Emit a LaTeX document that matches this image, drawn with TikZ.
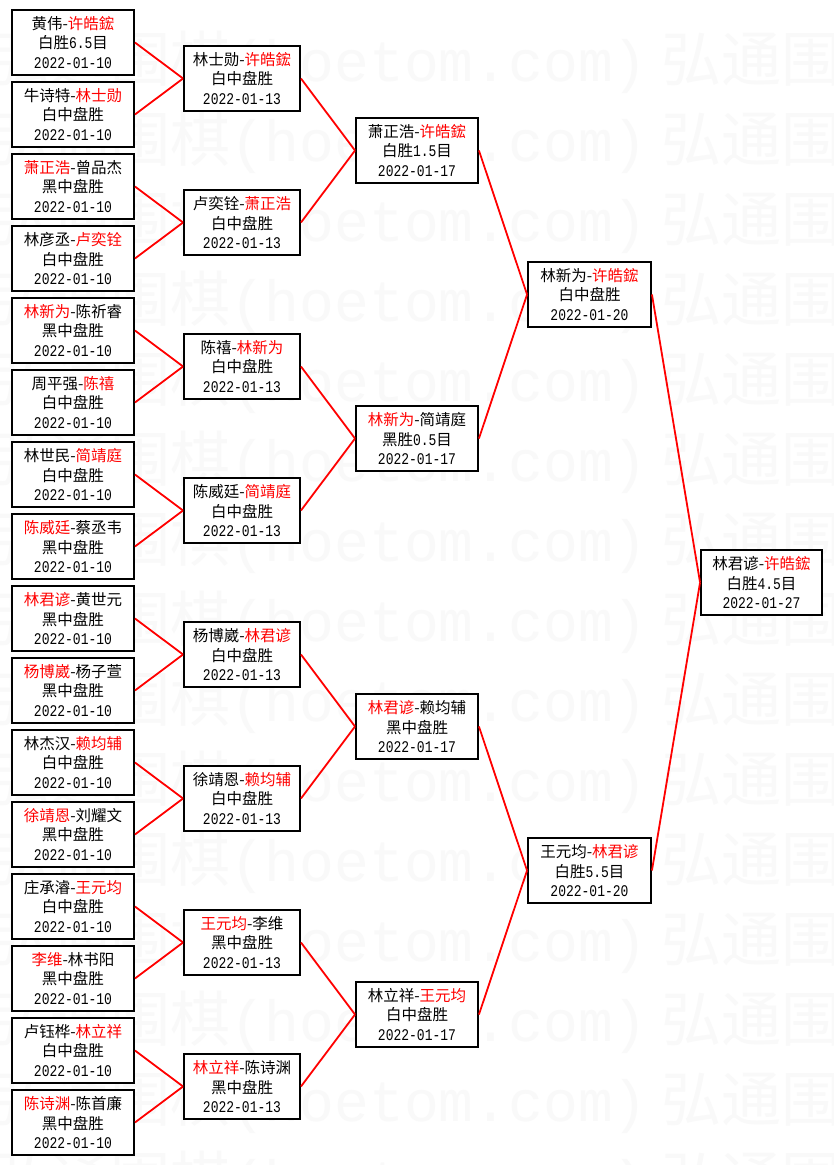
\documentclass[tikz,border=0pt]{standalone}
\usepackage{fontspec}
\setmainfont{Noto Sans CJK SC}
\newfontfamily\monof{Liberation Mono}
\newcommand\win[1]{\textcolor{red}{#1}}
\newcommand\mo[1]{\scalebox{1}[1.25]{\monof\fontsize{13}{19.5}\selectfont #1}}
\begin{document}
\begin{tikzpicture}[x=1pt,y=-1pt,
  box/.style={draw=black,line width=1.9pt,fill=white,align=center,inner sep=0pt,
    minimum height=65pt,font=\fontsize{15.5}{19.5}\selectfont},
  wa/.style={box,minimum width=122pt},
  wb/.style={box,minimum width=116pt},
  wc/.style={box,minimum width=122pt},
  wd/.style={box,minimum width=123pt},
  we/.style={box,minimum width=121pt},
  link/.style={draw=red,line width=1.8pt},
  wm/.style={anchor=base west,inner sep=0pt,text=black!2.5,font=\fontsize{60}{60}\selectfont}]
\fill[white] (0,0) rectangle (833,1165);
\useasboundingbox (0,0) rectangle (833,1165);
% watermark
\begin{scope}
\clip (0,0) rectangle (833,1165);
\foreach \k in {0,...,14} {
  \node[wm] at (-10,{81+80*\k}) {弘通围棋{\monof\fontsize{58}{58}\selectfont(hoetom.com)}\hspace{14pt}弘通围棋};
}
\end{scope}
% round 1
\node[wa] (a1)  at (73,42.5)   {黄伟-\win{许皓鋐}\\白胜\mo{6.5}目\\\mo{2022-01-10}};
\node[wa] (a2)  at (73,114.5)  {牛诗特-\win{林士勋}\\白中盘胜\\\mo{2022-01-10}};
\node[wa] (a3)  at (73,186.5)  {\win{萧正浩}-曾品杰\\黑中盘胜\\\mo{2022-01-10}};
\node[wa] (a4)  at (73,258.5)  {林彦丞-\win{卢奕铨}\\白中盘胜\\\mo{2022-01-10}};
\node[wa] (a5)  at (73,330.5)  {\win{林新为}-陈祈睿\\黑中盘胜\\\mo{2022-01-10}};
\node[wa] (a6)  at (73,402.5)  {周平强-\win{陈禧}\\白中盘胜\\\mo{2022-01-10}};
\node[wa] (a7)  at (73,474.5)  {林世民-\win{简靖庭}\\白中盘胜\\\mo{2022-01-10}};
\node[wa] (a8)  at (73,546.5)  {\win{陈威廷}-蔡丞韦\\黑中盘胜\\\mo{2022-01-10}};
\node[wa] (a9)  at (73,618.5)  {\win{林君谚}-黄世元\\黑中盘胜\\\mo{2022-01-10}};
\node[wa] (a10) at (73,690.5)  {\win{杨博崴}-杨子萱\\黑中盘胜\\\mo{2022-01-10}};
\node[wa] (a11) at (73,762.5)  {林杰汉-\win{赖均辅}\\白中盘胜\\\mo{2022-01-10}};
\node[wa] (a12) at (73,834.5)  {\win{徐靖恩}-刘耀文\\黑中盘胜\\\mo{2022-01-10}};
\node[wa] (a13) at (73,906.5)  {庄承濬-\win{王元均}\\白中盘胜\\\mo{2022-01-10}};
\node[wa] (a14) at (73,978.5)  {\win{李维}-林书阳\\黑中盘胜\\\mo{2022-01-10}};
\node[wa] (a15) at (73,1050.5) {卢钰桦-\win{林立祥}\\白中盘胜\\\mo{2022-01-10}};
\node[wa] (a16) at (73,1122.5) {\win{陈诗渊}-陈首廉\\黑中盘胜\\\mo{2022-01-10}};
% round 2
\node[wb] (b1) at (242,78.5)   {林士勋-\win{许皓鋐}\\白中盘胜\\\mo{2022-01-13}};
\node[wb] (b2) at (242,222.5)  {卢奕铨-\win{萧正浩}\\白中盘胜\\\mo{2022-01-13}};
\node[wb] (b3) at (242,366.5)  {陈禧-\win{林新为}\\白中盘胜\\\mo{2022-01-13}};
\node[wb] (b4) at (242,510.5)  {陈威廷-\win{简靖庭}\\白中盘胜\\\mo{2022-01-13}};
\node[wb] (b5) at (242,654.5)  {杨博崴-\win{林君谚}\\白中盘胜\\\mo{2022-01-13}};
\node[wb] (b6) at (242,798.5)  {徐靖恩-\win{赖均辅}\\白中盘胜\\\mo{2022-01-13}};
\node[wb] (b7) at (242,942.5)  {\win{王元均}-李维\\黑中盘胜\\\mo{2022-01-13}};
\node[wb] (b8) at (242,1086.5) {\win{林立祥}-陈诗渊\\黑中盘胜\\\mo{2022-01-13}};
% round 3
\node[wc] (c1) at (417,150.5)  {萧正浩-\win{许皓鋐}\\白胜\mo{1.5}目\\\mo{2022-01-17}};
\node[wc] (c2) at (417,438.5)  {\win{林新为}-简靖庭\\黑胜\mo{0.5}目\\\mo{2022-01-17}};
\node[wc] (c3) at (417,726.5)  {\win{林君谚}-赖均辅\\黑中盘胜\\\mo{2022-01-17}};
\node[wc] (c4) at (417,1014.5) {林立祥-\win{王元均}\\白中盘胜\\\mo{2022-01-17}};
% round 4
\node[wd] (d1) at (589.5,294.5) {林新为-\win{许皓鋐}\\白中盘胜\\\mo{2022-01-20}};
\node[wd] (d2) at (589.5,870.5) {王元均-\win{林君谚}\\白胜\mo{5.5}目\\\mo{2022-01-20}};
% final
\node[we] (e) at (761.5,582.5) {林君谚-\win{许皓鋐}\\白胜\mo{4.5}目\\\mo{2022-01-27}};
% connectors
\foreach \i in {1,...,8} {
  \pgfmathtruncatemacro\p{2*\i-1}
  \pgfmathtruncatemacro\q{2*\i}
  \draw[link] (a\p.east) -- (b\i.west);
  \draw[link] (a\q.east) -- (b\i.west);
}
\foreach \i in {1,...,4} {
  \pgfmathtruncatemacro\p{2*\i-1}
  \pgfmathtruncatemacro\q{2*\i}
  \draw[link] (b\p.east) -- (c\i.west);
  \draw[link] (b\q.east) -- (c\i.west);
}
\draw[link] (c1.east) -- (d1.west);
\draw[link] (c2.east) -- (d1.west);
\draw[link] (c3.east) -- (d2.west);
\draw[link] (c4.east) -- (d2.west);
\draw[link] (d1.east) -- (e.west);
\draw[link] (d2.east) -- (e.west);
\end{tikzpicture}
\end{document}
